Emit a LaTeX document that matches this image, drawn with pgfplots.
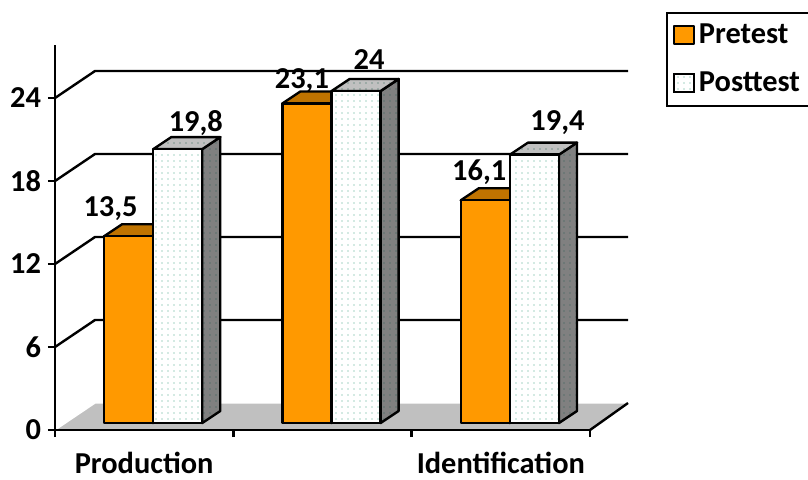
\documentclass[border=0pt]{standalone}
\usepackage{fontspec}
\setmainfont{Carlito}
\usepackage{pgfplots}
\pgfplotsset{compat=1.18}
\usepackage{pgfplotstable}
\usetikzlibrary{patterns.meta}

\definecolor{preorange}{HTML}{FF9900}
\definecolor{pretop}{HTML}{BF7300}
\definecolor{floorgray}{HTML}{C0C0C0}
\definecolor{postside}{HTML}{808080}
\definecolor{dotteal}{HTML}{48A88A}
\definecolor{dotdark}{HTML}{2E5E55}

\newcommand\lbl{\fontsize{15.2}{18}\selectfont\bfseries}

\tikzset{
  bar edge/.style={draw=black, line width=1.2pt, line join=round},
  pre front/.style={bar edge, fill=preorange},
  pre top/.style={bar edge, fill=pretop},
  pre side/.style={bar edge, fill=pretop!80!black},
  post front/.style={bar edge, preaction={fill=white},
    pattern={Dots[distance=3pt,radius=0.35pt]}, pattern color=dotteal},
  post top/.style={bar edge, preaction={fill=floorgray},
    pattern={Dots[distance=3pt,radius=0.35pt]}, pattern color=dotteal!60!black},
  post side/.style={bar edge, preaction={fill=postside},
    pattern={Dots[distance=3pt,radius=0.35pt]}, pattern color=dotdark},
}

% scores per category: x = category index, label offsets in pt
\pgfplotstableread{
x  pre   post  prelx prely postlx postly
0  13.5  19.8  -4.5  13.5  13.5  12.2
1  23.1  24.0   2.0  11.0  11.0  14.5
2  16.1  19.4   1.5  13.2  16.0  15.7
}\scores

% a cuboid bar drawn from the data point down to the floor;
% the bars stand 4.5pt right of and 3.5pt above the front plane
\pgfplotsset{
  box3d/.style={
    scatter, only marks, mark=*, mark size=0.01pt,
    scatter/@pre marker code/.code={%
      \pgfmathsetlengthmacro\barh{\barval*6.9167pt}%
      \path[#1 side] (16.75pt,3.5pt) -- (25.75pt,9.5pt) -- (25.75pt,{9.5pt-\barh}) -- (16.75pt,{3.5pt-\barh}) -- cycle;
      \path[#1 top] (-7.75pt,3.5pt) -- (16.75pt,3.5pt) -- (25.75pt,9.5pt) -- (1.25pt,9.5pt) -- cycle;
      \path[#1 front] (-7.75pt,{3.5pt-\barh}) rectangle (16.75pt,3.5pt);
      \begin{scope}[opacity=0]
    },
    scatter/@post marker code/.code={\end{scope}},
  },
  value labels/.style={
    only marks, mark=none,
    nodes near coords,
    every node near coord/.append style={font=\lbl, text=black, anchor=base,
      xshift=\lx*1pt, yshift=\ly*1pt},
  },
}

\begin{document}
\begin{tikzpicture}
\path[use as bounding box] (0pt,0pt) rectangle (404pt,239.5pt);
\begin{axis}[
  at={(27.5pt,24.5pt)}, anchor=south west,
  x=89.17pt, y=6.9167pt,
  xmin=-0.5, xmax=2.5, ymin=0, ymax=27.84,
  clip=false, axis on top,
  axis x line*=bottom, axis y line*=left,
  axis line style={line width=1.4pt, black},
  tick align=outside, major tick length=3.5pt,
  tick style={line width=1.2pt, black},
  ytick={0,6,...,24},
  xtick={-0.5,0.5,1.5,2.5}, xticklabels={},
  extra x ticks={0,2},
  extra x tick labels={Production,Identification},
  extra x tick style={major tick length=0pt, xticklabel style={yshift=-7.5pt}},
  ticklabel style={font=\lbl},
  /pgf/number format/assume math mode=true,
  /pgf/number format/use comma,
  legend style={at={(1.142,1.0857)}, anchor=north west, draw=black,
    line width=1pt, font=\lbl, inner xsep=3pt, inner ysep=3.6pt,
    row sep=8.5pt},
  legend cell align=left,
]
% floor of the chart
\fill[floorgray] (axis cs:-0.5,0) -- (axis cs:2.5,0)
  -- ([shift={(19pt,13.5pt)}]axis cs:2.5,0)
  -- ([shift={(20pt,13.5pt)}]axis cs:-0.5,0) -- cycle;
\draw[white, line width=0.7pt] (axis cs:-0.5,0) -- ++(20pt,13.5pt)
  -- ([shift={(19pt,13.5pt)}]axis cs:2.5,0);
\draw[black, line width=1.2pt] (axis cs:2.5,0) -- ++(19pt,13.5pt);
% grid lines on the back wall
\pgfplotsinvokeforeach{6,12,18,24}{
  \draw[black, line width=1.2pt] (axis cs:-0.5,#1) -- ++(20pt,13.5pt)
    -- ([shift={(19pt,13.5pt)}]axis cs:2.5,#1);
}

\addplot[box3d=pre, forget plot,
  visualization depends on={\thisrow{pre} \as \barval},
] table[x expr=\thisrow{x}-0.138, y=pre] {\scores};

\addplot[box3d=post, forget plot,
  visualization depends on={\thisrow{post} \as \barval},
] table[x expr=\thisrow{x}+0.138, y=post] {\scores};

\addplot[value labels, forget plot,
  visualization depends on={\thisrow{prelx} \as \lx},
  visualization depends on={\thisrow{prely} \as \ly},
] table[x expr=\thisrow{x}-0.138, y=pre] {\scores};

\addplot[value labels, forget plot,
  visualization depends on={\thisrow{postlx} \as \lx},
  visualization depends on={\thisrow{postly} \as \ly},
] table[x expr=\thisrow{x}+0.138, y=post] {\scores};

\addlegendimage{legend image code/.code={\path[pre front, line width=1pt] (0pt,-4.5pt) rectangle (10pt,4.5pt);}}
\addlegendentry{Pretest}
\addlegendimage{legend image code/.code={\path[post front, line width=1pt] (0pt,-4.5pt) rectangle (10pt,4.5pt);}}
\addlegendentry{Posttest\rule{10pt}{0pt}}
\end{axis}
\end{tikzpicture}
\end{document}
